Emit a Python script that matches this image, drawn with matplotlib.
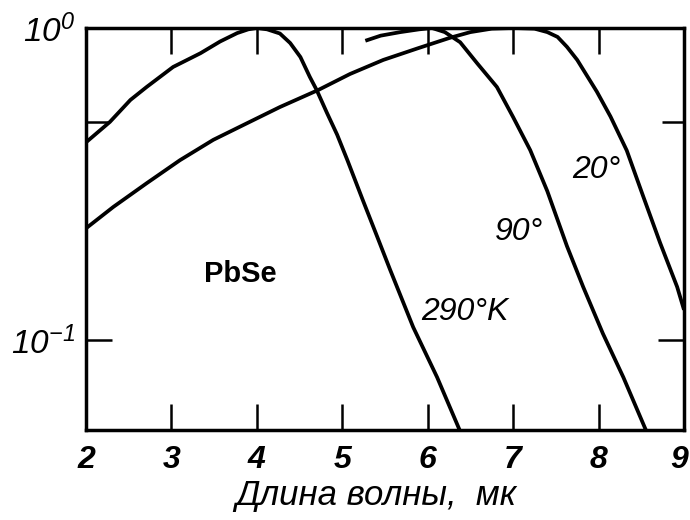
import matplotlib
matplotlib.use("Agg")
import matplotlib.pyplot as plt
from matplotlib.transforms import ScaledTranslation

plt.rcParams["font.family"] = ["Liberation Sans", "DejaVu Sans"]
plt.rcParams["mathtext.fontset"] = "custom"
plt.rcParams["mathtext.rm"] = "Liberation Sans:italic"
plt.rcParams["mathtext.it"] = "Liberation Sans:italic"

# Relative spectral response of PbSe photoresistors at three temperatures
lam_290 = [2.0, 2.28, 2.52, 2.71, 3.02, 3.34, 3.57, 3.77, 3.9, 4.0, 4.12, 4.27,
           4.39, 4.51, 4.62, 4.70, 4.82, 4.94, 5.06, 5.24, 5.41, 5.56, 5.83,
           6.11, 6.38]
r_290 = [0.43, 0.50, 0.588, 0.647, 0.75, 0.83, 0.905, 0.963, 0.99, 1.0, 0.99, 0.96,
         0.895, 0.807, 0.697, 0.633, 0.535, 0.455, 0.377, 0.281, 0.214, 0.168, 0.110,
         0.076, 0.051]

lam_90 = [5.27, 5.45, 5.68, 5.9, 6.05, 6.2, 6.38, 6.58, 6.81, 7.0, 7.2, 7.40,
          7.63, 7.82, 8.05, 8.29, 8.56]
r_90 = [0.91, 0.945, 0.97, 0.99, 1.0, 0.97, 0.90, 0.77, 0.647, 0.518, 0.406, 0.30,
        0.20, 0.148, 0.105, 0.076, 0.051]

lam_20 = [2.0, 2.32, 2.71, 3.10, 3.49, 3.89, 4.27, 4.72, 5.09, 5.48, 5.88, 6.26,
          6.5, 6.75, 7.0, 7.25, 7.4, 7.52, 7.63, 7.75, 7.98, 8.14, 8.33, 8.52,
          8.72, 8.92, 9.0]
r_20 = [0.228, 0.267, 0.318, 0.377, 0.438, 0.496, 0.558, 0.633, 0.712, 0.79, 0.86, 0.93,
        0.97, 0.995, 1.0, 0.995, 0.97, 0.936, 0.87, 0.79, 0.625, 0.52, 0.405, 0.29,
        0.205, 0.148, 0.125]

x_ticks = [2, 3, 4, 5, 6, 7, 8, 9]
y_ticks = [0.1, 1.0]
y_ticklabels = [r"$10^{-1}$", r"$10^{0}$"]
y_minor = [0.5]

curve_labels = ["290°K", "90°", "20°"]
label_pos = [(6.44, 0.123), (7.07, 0.222), (7.97, 0.351)]

fig = plt.figure(figsize=(6.9, 5.2), dpi=100)
ax = fig.add_axes([0.1246, 0.1731, 0.8667, 0.7731])

for lam, r in [(lam_290, r_290), (lam_90, r_90), (lam_20, r_20)]:
    ax.plot(lam, r, color="black", lw=2.7, solid_capstyle="butt",
            solid_joinstyle="round")

ax.set_yscale("log")
ax.set_xlim(2, 9)
ax.set_ylim(0.0515, 1.0)

ax.set_xticks(x_ticks)
ax.set_xticklabels([str(t) for t in x_ticks], fontsize=23, fontweight="bold",
                   fontstyle="italic")
ax.set_yticks(y_ticks)
ax.set_yticklabels(y_ticklabels, fontsize=24)
ax.set_yticks(y_minor, minor=True)
ax.yaxis.set_minor_formatter(plt.NullFormatter())

ax.tick_params(axis="both", which="major", direction="in", length=19, width=1.8,
               top=True, right=True)
ax.tick_params(axis="x", which="major", pad=11)
ax.tick_params(axis="y", which="major", pad=8)
ax.tick_params(axis="y", which="minor", direction="in", length=16, width=1.8,
               left=True, right=True)
ax.tick_params(axis="x", which="minor", bottom=False, top=False)

# keep the last wavelength label inside the canvas
last = ax.get_xticklabels()[-1]
last.set_transform(last.get_transform()
                   + ScaledTranslation(-5 / 100, 0, fig.dpi_scale_trans))

for side, sp in ax.spines.items():
    sp.set_linewidth(2.5)

ax.set_xlabel("Длина волны,  мк", fontsize=25, fontstyle="italic")
ax.xaxis.set_label_coords(0.485, -0.122)

ax.text(3.81, 0.163, "PbSe", fontsize=21, fontweight="bold", ha="center", va="center")
for txt, (lx, ly) in zip(curve_labels, label_pos):
    ax.text(lx, ly, txt, fontsize=23, fontstyle="italic", ha="center", va="center")

fig.savefig("out.png", dpi=100)
